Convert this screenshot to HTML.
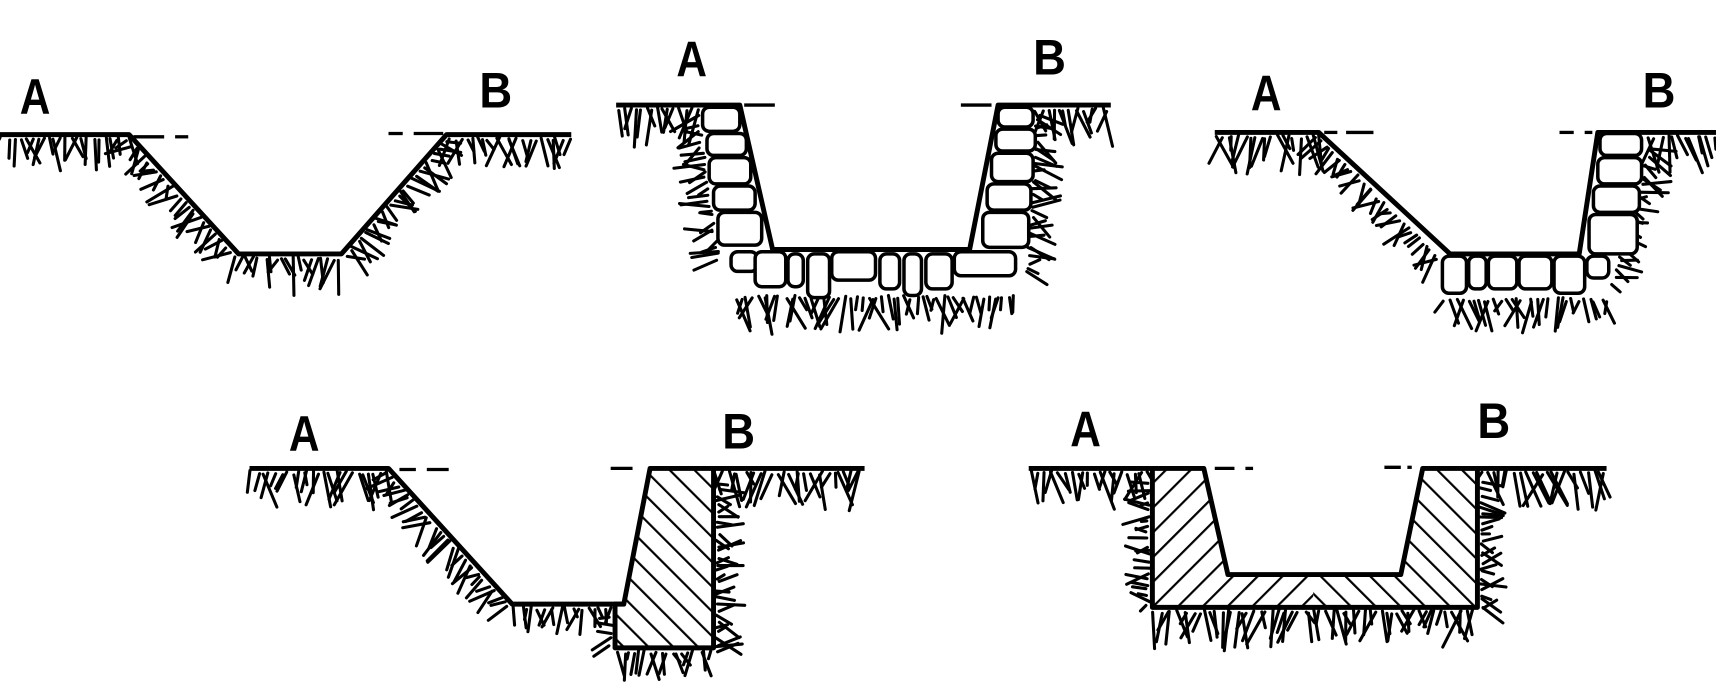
<!DOCTYPE html>
<html><head><meta charset="utf-8"><style>
html,body{margin:0;padding:0;background:#fff;}
svg{display:block}
text{font-family:"Liberation Sans Narrow","Liberation Sans",sans-serif;font-weight:bold;font-size:46px;fill:#000}
</style></head><body>
<svg id="s" width="1716" height="684" viewBox="0 0 1568 625" preserveAspectRatio="none" xmlns="http://www.w3.org/2000/svg">
<defs>
<pattern id="h1" width="16" height="16" patternUnits="userSpaceOnUse" patternTransform="rotate(45)"><rect width="16" height="16" fill="#fff"/><line x1="0" y1="0" x2="0" y2="16" stroke="#000" stroke-width="4"/></pattern>
<pattern id="h2" width="16" height="16" patternUnits="userSpaceOnUse" patternTransform="rotate(-45)"><rect width="16" height="16" fill="#fff"/><line x1="0" y1="0" x2="0" y2="16" stroke="#000" stroke-width="4"/></pattern>
</defs>
<g id="grass" stroke="#000" stroke-width="2.8" stroke-linecap="round" fill="none"></g>
<g id="stones" fill="#fff" stroke="#000" stroke-width="3.2"></g>
<g id="main" fill="none" stroke="#000" stroke-width="4.5" stroke-linejoin="round">
<polyline points="0,123 118,123 218,232 312,232 408,123 522,123"/>
<polyline points="563,96 676,96 706,228 886,228 912,96 1015,96"/>
<polyline points="1110,121 1205,121 1325,232 1443,232 1460,121 1568,121"/>
<polyline points="228,428 355,428 468,552 570,552"/>
<line x1="594" y1="428" x2="790" y2="428"/>
<polygon points="594,428 652,428 652,592 562,592 562,552 570,552" fill="url(#h2)"/>
<line x1="940" y1="428" x2="1100" y2="428"/>
<line x1="1300" y1="428" x2="1468" y2="428"/>
<path d="M1053,428 L1100,428 L1122,525 L1200,525 L1200,555 L1053,555 Z" fill="url(#h1)" stroke="none"/>
<path d="M1200,525 L1280,525 L1300,428 L1350,428 L1350,555 L1200,555 Z" fill="url(#h2)" stroke="none"/>
<polygon points="1053,428 1100,428 1122,525 1280,525 1300,428 1350,428 1350,555 1053,555"/>
</g>
<g stroke="#000" stroke-width="3">
<line x1="122" y1="125" x2="150" y2="125"/><line x1="160" y1="125" x2="172" y2="125"/>
<line x1="355" y1="122" x2="368" y2="122"/><line x1="378" y1="122" x2="405" y2="122"/>
<line x1="680" y1="96" x2="708" y2="96"/><line x1="878" y1="96" x2="906" y2="96"/>
<line x1="1210" y1="121" x2="1222" y2="121"/><line x1="1230" y1="121" x2="1255" y2="121"/>
<line x1="1425" y1="121" x2="1438" y2="121"/><line x1="1448" y1="121" x2="1455" y2="121"/>
<line x1="365" y1="429" x2="380" y2="429"/><line x1="390" y1="429" x2="410" y2="429"/>
<line x1="558" y1="428" x2="578" y2="428"/>
<line x1="1110" y1="428" x2="1128" y2="428"/><line x1="1138" y1="428" x2="1145" y2="428"/>
<line x1="1265" y1="427" x2="1280" y2="427"/><line x1="1286" y1="427" x2="1290" y2="427"/>
</g>
<g>
<text x="18" y="104" textLength="28" lengthAdjust="spacingAndGlyphs">A</text>
<text x="438" y="98" textLength="30" lengthAdjust="spacingAndGlyphs">B</text>
<text x="618" y="70" textLength="28" lengthAdjust="spacingAndGlyphs">A</text>
<text x="944" y="68" textLength="30" lengthAdjust="spacingAndGlyphs">B</text>
<text x="1143" y="101" textLength="28" lengthAdjust="spacingAndGlyphs">A</text>
<text x="1501" y="98" textLength="30" lengthAdjust="spacingAndGlyphs">B</text>
<text x="264" y="412" textLength="28" lengthAdjust="spacingAndGlyphs">A</text>
<text x="660" y="410" textLength="30" lengthAdjust="spacingAndGlyphs">B</text>
<text x="978" y="408" textLength="28" lengthAdjust="spacingAndGlyphs">A</text>
<text x="1350" y="400" textLength="30" lengthAdjust="spacingAndGlyphs">B</text>
</g>
</svg>
<script>
(function(){
var seed=7;function r(){seed=(seed*16807)%2147483647;return seed/2147483647;}
var g=document.getElementById('grass'),NS='http://www.w3.org/2000/svg';
function grass(pts,lenMin,lenMax,step){
 for(var i=0;i<pts.length-1;i++){
  var a=pts[i],b=pts[i+1],dx=b[0]-a[0],dy=b[1]-a[1],L=Math.hypot(dx,dy);
  var nx=-dy/L,ny=dx/L;
  if(ny<0){nx=-nx;ny=-ny;}
  if(a[3]){nx=a[3][0];ny=a[3][1];}
  var n=Math.floor(L/step);
  for(var k=0;k<n;k++){
   var t=(k+r())/n,x=a[0]+dx*t,y=a[1]+dy*t;
   var ang=Math.atan2(ny,nx)+(r()-0.5)*1.0,l=lenMin+r()*(lenMax-lenMin);
   var off=2+r()*4;
   var p=document.createElementNS(NS,'line');
   p.setAttribute('x1',(x+nx*off).toFixed(1));p.setAttribute('y1',(y+ny*off).toFixed(1));
   p.setAttribute('x2',(x+Math.cos(ang)*l).toFixed(1));p.setAttribute('y2',(y+Math.sin(ang)*l).toFixed(1));
   g.appendChild(p);
  }
 }
}
grass([[0,123],[118,123]],15,35,5);
grass([[118,123],[218,232]],15,32,5);
grass([[218,232],[312,232]],15,38,5);
grass([[312,232],[408,123]],15,32,5);
grass([[408,123],[522,123]],15,35,5);
grass([[563,96],[640,96]],15,40,5);
grass([[640,100,0,[-1,0.3]],[660,240]],12,32,5);
grass([[670,268],[930,268]],15,38,5);
grass([[945,100,0,[1,0.3]],[935,250]],12,32,5);
grass([[945,96],[1015,96]],15,40,5);
grass([[1110,121],[1205,121]],15,40,5);
grass([[1205,121],[1318,235]],15,32,5);
grass([[1318,270],[1470,270]],15,35,5);
grass([[1505,130,0,[1,0.4]],[1470,260]],12,32,5);
grass([[1505,121],[1568,121]],15,40,5);
grass([[228,428],[355,428]],15,40,5);
grass([[355,428],[468,552]],15,32,5);
grass([[468,552],[562,552]],12,30,5);
grass([[562,560,0,[-1,0.2]],[562,592]],10,25,6);
grass([[562,592],[652,592]],10,30,5);
grass([[652,440,0,[1,0.1]],[652,600]],10,30,5);
grass([[652,428],[790,428]],15,40,5);
grass([[940,428],[1053,428]],15,40,5);
grass([[1053,440,0,[-1,0.1]],[1053,555]],10,28,5);
grass([[1053,555],[1350,555]],15,40,5);
grass([[1350,440,0,[1,0.1]],[1350,560]],10,28,5);
grass([[1350,428],[1468,428]],15,40,5);
var s=document.getElementById('stones');
function st(x,y,w,h){var e=document.createElementNS(NS,'rect');e.setAttribute('x',x);e.setAttribute('y',y);e.setAttribute('width',w);e.setAttribute('height',h);e.setAttribute('rx',6);s.appendChild(e);}
[[642,98,34,22],[646,122,36,20],[648,144,38,24],[652,170,38,22],[656,194,40,30]].forEach(function(a){st(a[0],a[1],a[2],a[3]);});
[[912,98,32,18],[910,118,36,20],[906,140,38,26],[902,168,40,24],[898,194,42,32]].forEach(function(a){st(a[0],a[1],a[2],a[3]);});
[[668,230,24,18],[690,230,28,32],[720,232,14,30],[738,232,20,40],[760,230,40,26],[804,232,18,32],[826,232,16,38],[846,232,24,32],[872,230,56,22]].forEach(function(a){st(a[0],a[1],a[2],a[3]);});
[[1462,122,38,20],[1460,144,40,24],[1456,170,42,24],[1452,196,44,36]].forEach(function(a){st(a[0],a[1],a[2],a[3]);});
[[1318,234,22,34],[1342,234,16,30],[1360,234,26,30],[1388,234,30,30],[1420,234,28,34],[1450,234,20,20]].forEach(function(a){st(a[0],a[1],a[2],a[3]);});
})();
</script>
</body></html>
